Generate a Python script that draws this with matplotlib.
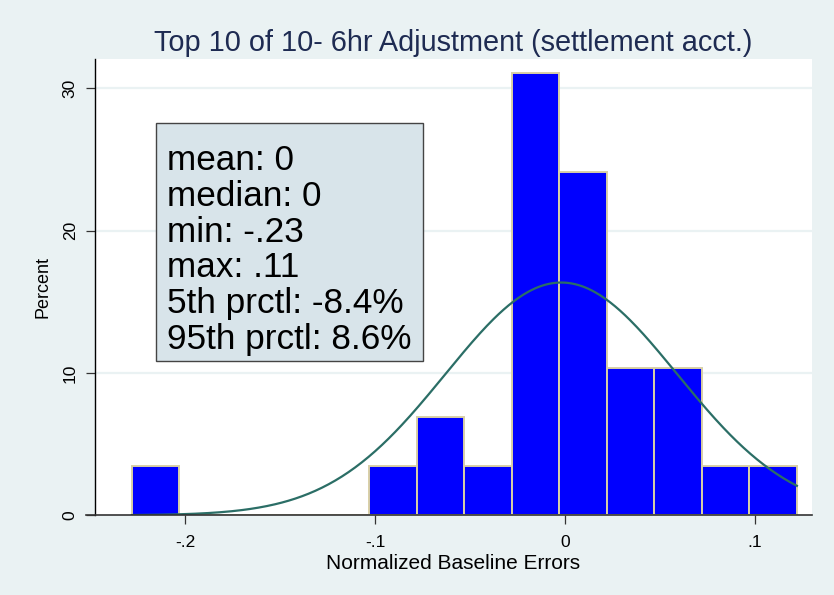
import numpy as np
import matplotlib
matplotlib.use("Agg")
import matplotlib.pyplot as plt
from matplotlib.patches import Rectangle

plt.rcParams['font.family'] = ['Liberation Sans', 'DejaVu Sans']

# Histogram of normalized baseline errors (percent of observations per bin)
bin_start = -0.228
bin_width = 0.025
bin_percent = [3.448, 0, 0, 0, 0, 3.448, 6.897, 3.448, 31.034, 24.138,
               10.345, 10.345, 3.448, 3.448]

# Fitted normal overlay parameters
fit_mean = -0.002
fit_sd = 0.061

stats_lines = ["mean: 0", "median: 0", "min: -.23", "max: .11",
               "5th prctl: -8.4%", "95th prctl: 8.6%"]

x_ticks = [-0.2, -0.1, 0.0, 0.1]
x_ticklabels = ["-.2", "-.1", "0", ".1"]
y_ticks = [0, 10, 20, 30]
y_ticklabels = ["0", "10", "20", "30"]

title = "Top 10 of 10- 6hr Adjustment (settlement acct.)"
xlabel = "Normalized Baseline Errors"
ylabel = "Percent"

BG = "#EAF2F3"
BAR = "#0000FF"
BAR_EDGE = "#D8CFA6"
CURVE = "#2B6E66"
GRID = "#EAF2F3"
TITLE_C = "#1E2B52"

W, H = 834, 595
AX_L, AX_R, AX_T, AX_B = 95, 811.7, 59.3, 515.3
fig = plt.figure(figsize=(W / 100, H / 100), dpi=100, facecolor=BG)
ax = fig.add_axes([AX_L / W, 1 - AX_B / H, (AX_R - AX_L) / W, (AX_B - AX_T) / H])
ax.set_facecolor("white")

edges = bin_start + bin_width * np.arange(len(bin_percent) + 1)
ax.bar(edges[:-1], bin_percent, width=bin_width, align="edge",
       color=BAR, edgecolor=BAR_EDGE, linewidth=1.4, zorder=2)

xs = np.linspace(edges[0], edges[-1], 400)
pdf = np.exp(-0.5 * ((xs - fit_mean) / fit_sd) ** 2) / (fit_sd * np.sqrt(2 * np.pi))
ax.plot(xs, pdf * bin_width * 100, color=CURVE, linewidth=1.6, zorder=3)

ax.set_xlim(-0.2474, 0.1298)
ax.set_ylim(0, 32.03)

for yv in y_ticks[1:]:
    ax.axhline(yv, color=GRID, linewidth=1.6, zorder=1)

for s in ["top", "right", "bottom"]:
    ax.spines[s].set_visible(False)
ax.spines["left"].set_color("black")
ax.spines["left"].set_linewidth(1.0)
ax.plot([-0.012, 1.0], [0, 0], transform=ax.transAxes, color="#333333",
        linewidth=1.2, clip_on=False, zorder=4)

ax.set_xticks(x_ticks)
ax.set_xticklabels(x_ticklabels, fontsize=12.5)
ax.set_yticks(y_ticks)
ax.set_yticklabels(y_ticklabels, fontsize=12.5, rotation=90, va="center")
ax.tick_params(axis="both", length=6.5, width=0.9, color="#333333")
ax.tick_params(axis="x", pad=7.5)
ax.tick_params(axis="y", pad=6)

ax.set_xlabel(xlabel, fontsize=15, va="baseline")
ax.xaxis.set_label_coords(0.5, (AX_B - 569) / (AX_B - AX_T))
ax.set_ylabel(ylabel, fontsize=13, labelpad=8)

fig.text((AX_L + AX_R) / 2 / W, 1 - 51 / H, title, ha="center", va="baseline",
         fontsize=20.8, color=TITLE_C)

# Summary statistics box
bx0, bx1 = 155.7, 423.3
by0, by1 = 123.3, 361.3
fig.patches.append(Rectangle((bx0 / W, 1 - by1 / H), (bx1 - bx0) / W, (by1 - by0) / H,
                             transform=fig.transFigure, facecolor="#D8E4EA",
                             edgecolor="#444444", linewidth=1.0, zorder=5))
first_base, line_step = 170.0, 35.8
for i, line in enumerate(stats_lines):
    fig.text(167 / W, 1 - (first_base + i * line_step) / H, line, ha="left",
             va="baseline", fontsize=25.3, color="black", zorder=6)

fig.savefig("out.png", dpi=100, facecolor=BG)
